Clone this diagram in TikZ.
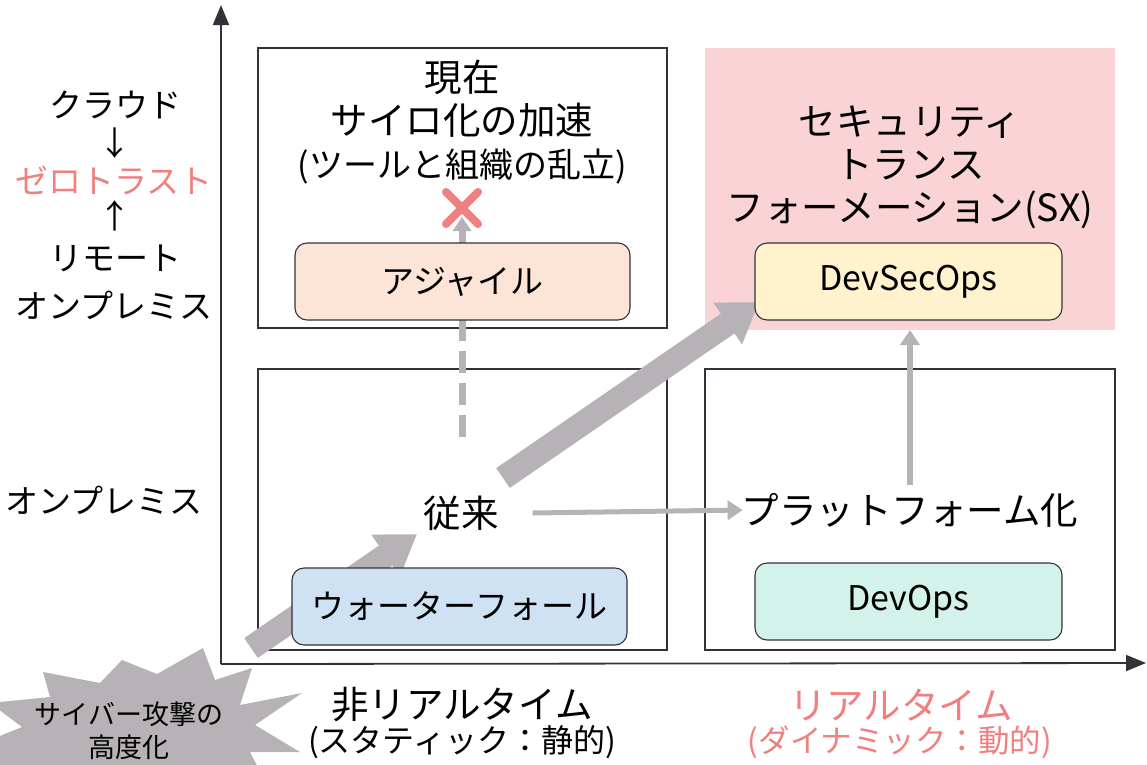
\documentclass[tikz,border=0pt]{standalone}
\usepackage{fontspec}
\setmainfont{Noto Sans CJK JP}
\usetikzlibrary{arrows.meta}
\definecolor{arrowgray}{RGB}{182,178,182}
\definecolor{accent}{RGB}{240,128,128}
\definecolor{pinkbg}{RGB}{249,211,213}
\definecolor{peach}{RGB}{252,229,214}
\definecolor{paleyellow}{RGB}{255,242,204}
\definecolor{paleblue}{RGB}{207,226,243}
\definecolor{mint}{RGB}{211,242,234}
\definecolor{edge}{RGB}{50,50,58}
\tikzset{
  quad/.style={draw=edge, line width=1.3pt, fill=white},
  pill/.style={draw=edge, line width=1.1pt, rounded corners=12pt},
  title/.style={font=\fontsize{37.5}{43}\selectfont, align=center, inner sep=0pt},
  sidelabel/.style={font=\fontsize{33}{38}\selectfont, inner sep=0pt},
  pilltext/.style={font=\fontsize{33}{36}\selectfont, inner sep=0pt},
  fatarrow/.style={draw=arrowgray, line width=24pt, -{Triangle[length=38pt,width=48pt]}},
  thinarrow/.style={draw=arrowgray, line width=6pt, -{Triangle[length=15pt,width=19pt]}},
  axis/.style={draw=edge, line width=1.8pt, -{Triangle[length=20pt,width=16pt]}}
}
\begin{document}
\begin{tikzpicture}[x=1pt,y=-1pt]
\useasboundingbox (0,0) rectangle (1147,764);

% quadrant frames
\fill[pinkbg] (705,48) rectangle (1115,330);
\draw[quad] (258,48) rectangle (667,328);
\draw[quad] (258,369) rectangle (667,650);
\draw[quad] (705,369) rectangle (1115,650);

% threat burst
\fill[arrowgray] (203,648) -- (215,680) -- (252,668) -- (240,705) -- (302,693)
  -- (255,725) -- (300,752) -- (250,752) -- (262,775) -- (60,775) -- (-10,765)
  -- (-5,738) -- (22,727) -- (-10,703) -- (50,697) -- (43,672) -- (100,683)
  -- (122,660) -- (157,674) -- cycle;
\node[font=\fontsize{27}{33}\selectfont, align=center, inner sep=0pt] (burst)
  at (129,731) {サイバー攻撃の\\高度化};

% texts inside quadrants
\node[title] (now) at (462,122) {現在\\サイロ化の加速\\{\fontsize{34}{43}\selectfont(ツールと組織の乱立)}};
\node[title] (sx) at (910,167) {セキュリティ\\トランス\\フォーメーション(SX)};
\node[title] (legacy) at (461,513) {従来};
\node[title] (platform) at (910,510) {プラットフォーム化};

% transitions
\coordinate (burstTail) at (251,648);
\coordinate (legacyIn) at (417,534);
\coordinate (legacyOut) at (503,478);
\coordinate (sxIn) at (759,302);
\coordinate (dashStart) at (462,437);
\coordinate (blocked) at (462,217);
\draw[fatarrow] (burstTail) -- (legacyIn);
\draw[fatarrow] (legacyOut) -- (sxIn);
\draw[draw=arrowgray, line width=7pt, dash pattern=on 22pt off 10pt,
      -{Triangle[length=14pt,width=18pt]}] (dashStart) -- (blocked);
\draw[thinarrow, line width=5pt] ([xshift=34pt]legacy.east) -- ([xshift=1pt]platform.west);
\coordinate (platformN) at (910,485);
\coordinate (devsecS) at (910,330);
\draw[thinarrow] (platformN) -- (devsecS);

% practice boxes
\draw[pill, fill=peach] (295,243) rectangle (630,320);
\node[pilltext] (agile) at (462.5,281.5) {アジャイル};
\draw[pill, fill=paleyellow] (755,243) rectangle (1062,320);
\node[pilltext, font=\fontsize{34}{36}\selectfont] (devsecops) at (908.5,281.5) {DevSecOps};
\draw[pill, fill=paleblue] (292,568) rectangle (627,645);
\node[pilltext] (waterfall) at (459.5,606.5) {ウォーターフォール};
\draw[pill, fill=mint] (755,563) rectangle (1062,640);
\node[pilltext, font=\fontsize{34}{36}\selectfont] (devops) at (908.5,601.5) {DevOps};

% blocked mark
\draw[accent, line width=8pt, line cap=round] (446,192) -- (478,224) (478,192) -- (446,224);

% axes
\coordinate (origin) at (221,664);
\coordinate (ytop) at (221,5);
\coordinate (xend) at (1146,663);
\draw[axis] (origin) -- (ytop);
\draw[axis] (origin) -- (xend);

% vertical axis labels
\node[sidelabel] (cloud) at (115,105) {クラウド};
\node[sidelabel] (down) at (115,143) {↓};
\node[sidelabel, text=accent] (zt) at (114,180) {ゼロトラスト};
\node[sidelabel] (up) at (115,216) {↑};
\node[sidelabel] (remote) at (115,258) {リモート};
\node[sidelabel] (onprem1) at (114,305) {オンプレミス};
\node[sidelabel] (onprem2) at (104,500) {オンプレミス};

% horizontal axis labels
\node[title, font=\fontsize{37.5}{43}\selectfont] (static) at (462,705) {非リアルタイム};
\node[title, font=\fontsize{32}{38}\selectfont] (static2) at (462,742) {(スタティック：静的)};
\node[title, font=\fontsize{37.5}{43}\selectfont, text=accent] (dynamic) at (901,705) {リアルタイム};
\node[title, font=\fontsize{31.5}{38}\selectfont, text=accent] (dynamic2) at (900,742) {(ダイナミック：動的)};
\end{tikzpicture}
\end{document}
